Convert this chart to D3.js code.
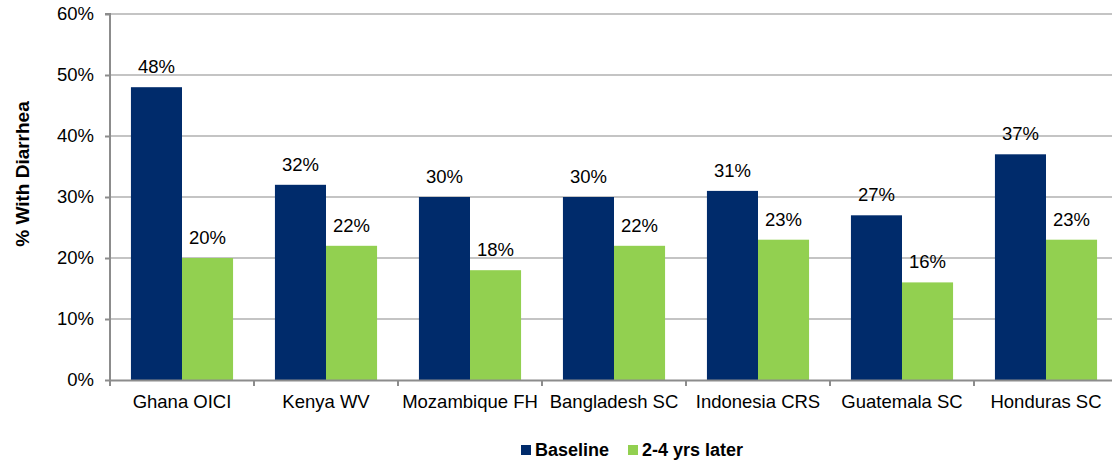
<!DOCTYPE html>
<html>
<head>
<meta charset="utf-8">
<script src="https://cdn.jsdelivr.net/npm/d3@7"></script>
<style>
  html, body { margin: 0; padding: 0; background: #fff; }
  svg { display: block; font-family: "Liberation Sans", Arial, sans-serif; }
</style>
</head>
<body>
<svg id="chart" width="1112" height="462"></svg>
<script>
// Share of children with diarrhea, baseline vs. follow-up survey
const categories = ["Ghana OICI", "Kenya WV", "Mozambique FH", "Bangladesh SC", "Indonesia CRS", "Guatemala SC", "Honduras SC"];
const seriesNames = ["Baseline", "2-4 yrs later"];
const baseline = [48, 32, 30, 30, 31, 27, 37];
const later = [20, 22, 18, 22, 23, 16, 23];
const yTicks = [0, 10, 20, 30, 40, 50, 60];
const colors = ["#002B6B", "#92D050"];

const svg = d3.select("#chart");
const margin = { left: 110, top: 14, right: -6, bottom: 82 };
const W = 1112, H = 462;
const plotW = W - margin.left - margin.right;
const plotH = H - margin.top - margin.bottom;
const FONT = "Liberation Sans, Arial, sans-serif";

const x = d3.scaleBand().domain(categories).range([margin.left, margin.left + plotW]).paddingInner(0).paddingOuter(0);
const xs = d3.scaleBand().domain(seriesNames).range([0, x.bandwidth()]).paddingInner(0).paddingOuter(0.41);
const y = d3.scaleLinear().domain([0, 60]).range([margin.top + plotH, margin.top]);

// gridlines
svg.append("g").selectAll("line").data(yTicks.filter(d => d > 0)).join("line")
  .attr("x1", margin.left).attr("x2", W)
  .attr("y1", d => y(d)).attr("y2", d => y(d))
  .attr("stroke", "#c4c4c4").attr("stroke-width", 2);

// bars
const data = categories.map((c, i) => ({ c, vals: [baseline[i], later[i]] }));
const groups = svg.append("g").selectAll("g").data(data).join("g")
  .attr("transform", d => `translate(${x(d.c)},0)`);
groups.selectAll("rect").data(d => d.vals.map((v, j) => ({ v, s: seriesNames[j], j }))).join("rect")
  .attr("x", d => xs(d.s)).attr("width", xs.bandwidth())
  .attr("y", d => y(d.v)).attr("height", d => y(0) - y(d.v))
  .attr("fill", d => colors[d.j]);
groups.selectAll("text").data(d => d.vals.map((v, j) => ({ v, s: seriesNames[j] }))).join("text")
  .attr("x", d => xs(d.s) + xs.bandwidth() / 2)
  .attr("y", d => y(d.v) - 14)
  .attr("text-anchor", "middle").attr("font-size", 18.5).attr("fill", "#000")
  .text(d => d.v + "%");

// y axis
const yAxis = d3.axisLeft(y).tickValues(yTicks).tickFormat(d => d + "%").tickSize(5).tickPadding(11);
const gy = svg.append("g").attr("transform", `translate(${margin.left},0)`).call(yAxis);
gy.select(".domain").attr("stroke", "#8c8c8c").attr("stroke-width", 2).attr("d", `M-5,${y(60)}H0V${y(0)}`);
gy.selectAll(".tick line").attr("stroke", "#8c8c8c").attr("stroke-width", 2);
gy.selectAll(".tick text").attr("font-size", 18.5).attr("fill", "#000").attr("font-family", FONT);

// x axis
const xAxis = d3.axisBottom(x).tickSize(0).tickPadding(15);
const gx = svg.append("g").attr("transform", `translate(0,${y(0)})`).call(xAxis);
gx.select(".domain").attr("stroke", "#8c8c8c").attr("stroke-width", 2);
gx.selectAll(".tick text").attr("font-size", 18.5).attr("fill", "#000").attr("font-family", FONT);
// category separators
svg.append("g").selectAll("line").data(categories).join("line")
  .attr("x1", d => x(d)).attr("x2", d => x(d))
  .attr("y1", y(0)).attr("y2", y(0) + 6)
  .attr("stroke", "#8c8c8c").attr("stroke-width", 2);

// y title
svg.append("text")
  .attr("transform", `translate(29,174) rotate(-90)`)
  .attr("text-anchor", "middle").attr("font-size", 19).attr("font-weight", "bold")
  .text("% With Diarrhea");

// legend
const legendItems = [{ name: seriesNames[0], x: 521 }, { name: seriesNames[1], x: 628 }];
const lg = svg.append("g").selectAll("g").data(legendItems).join("g")
  .attr("transform", d => `translate(${d.x},0)`);
lg.append("rect").attr("x", 0).attr("y", 445).attr("width", 10).attr("height", 10)
  .attr("fill", (d, i) => colors[i]);
lg.append("text").attr("x", 14).attr("y", 456).attr("font-size", 18).attr("font-weight", "bold")
  .text(d => d.name);
</script>
</body>
</html>
